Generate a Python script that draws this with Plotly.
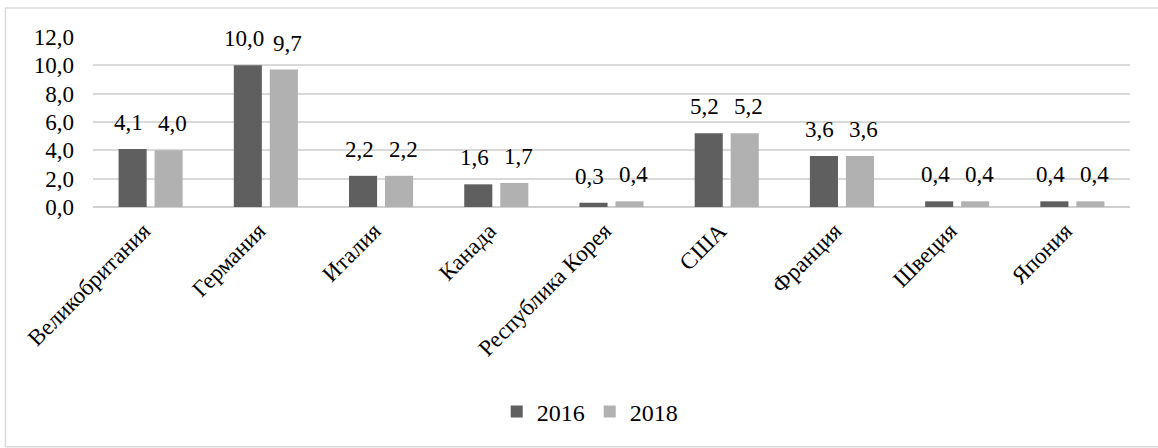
import plotly.graph_objects as go

categories = ["Великобритания", "Германия", "Италия", "Канада", "Республика Корея",
              "США", "Франция", "Швеция", "Япония"]
series_names = ["2016", "2018"]
values_2016 = [4.1, 10.0, 2.2, 1.6, 0.3, 5.2, 3.6, 0.4, 0.4]
values_2018 = [4.0, 9.7, 2.2, 1.7, 0.4, 5.2, 3.6, 0.4, 0.4]
y_ticks = [0, 2, 4, 6, 8, 10, 12]

colors = ["#5f5f5f", "#b1b1b1"]
FONT = "Liberation Serif"

fig = go.Figure()
for name, vals, col in zip(series_names, [values_2016, values_2018], colors):
    fig.add_trace(go.Bar(x=categories, y=vals, name=name, marker_color=col,
                         marker_line_width=0, hoverinfo="skip"))

# data labels
for i, vals in enumerate([values_2016, values_2018]):
    shift = -22 if i == 0 else 22
    for c, v in zip(categories, vals):
        fig.add_annotation(x=c, y=v, xref="x", yref="y", text=f"{v:.1f}".replace(".", ","),
                           showarrow=False, xshift=shift, yshift=12, yanchor="bottom",
                           font=dict(family=FONT, size=23, color="#000000"))

# outer border
fig.add_shape(type="rect", xref="paper", yref="paper",
              x0=-0.0844, x1=1.04, y0=-1.41, y1=1.17,
              line=dict(color="#d9d9d9", width=1.5), fillcolor="rgba(0,0,0,0)")

fig.update_layout(
    width=1158, height=448,
    margin=dict(l=93, r=28, t=37, b=241, autoexpand=False),
    paper_bgcolor="white", plot_bgcolor="white",
    barmode="group", bargap=0.375, bargroupgap=0.22,
    font=dict(family=FONT, color="#000000"),
    showlegend=True,
    legend=dict(orientation="h", x=0.479, xanchor="center", y=-1.206, yanchor="middle",
                font=dict(family=FONT, size=24), itemwidth=30, traceorder="normal"),
)
fig.update_xaxes(tickangle=-45, tickfont=dict(family=FONT, size=23), showgrid=False,
                 showline=False, ticks="", automargin=False,
                 ticklabelshift=-7, ticklabelstandoff=5)
fig.update_yaxes(range=[0, 12], tickvals=y_ticks,
                 ticktext=[f"{t:.1f}".replace(".", ",") for t in y_ticks],
                 tickfont=dict(family=FONT, size=23), showgrid=True, gridcolor="#d9d9d9",
                 gridwidth=1.5, zeroline=True, zerolinecolor="#d0d0d0", zerolinewidth=2,
                 ticks="", ticklabelstandoff=18, automargin=False)

fig.write_html("out.html", config={"displayModeBar": False},
               post_script="document.body.style.margin='0';")
